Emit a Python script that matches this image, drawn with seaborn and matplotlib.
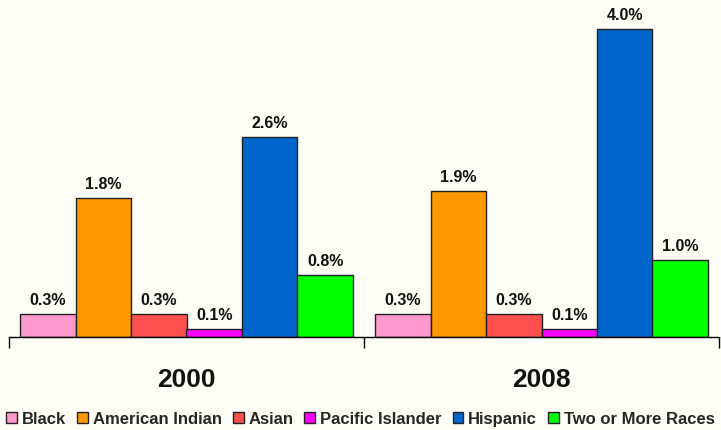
import pandas as pd
import matplotlib.pyplot as plt
import seaborn as sns

years = ["2000", "2008"]
groups = ["Black", "American Indian", "Asian", "Pacific Islander", "Hispanic", "Two or More Races"]
values_2000 = [0.3, 1.8, 0.3, 0.1, 2.6, 0.8]
values_2008 = [0.3, 1.9, 0.3, 0.1, 4.0, 1.0]
colors = ["#FF99CC", "#FF9900", "#FF5050", "#FF00FF", "#0066CC", "#00FF00"]

df = pd.DataFrame({
    "year": [years[0]] * len(groups) + [years[1]] * len(groups),
    "group": groups + groups,
    "value": values_2000 + values_2008,
})

sns.set_theme(style="white")
plt.rcParams["font.family"] = ["Liberation Sans", "DejaVu Sans"]
bg = "#FEFEF6"

fig = plt.figure(figsize=(7.21, 4.31), dpi=100, facecolor=bg)
ax = fig.add_axes([9 / 721, 1 - 338 / 431, 710 / 721, 331 / 431], facecolor=bg)

sns.barplot(data=df, x="year", y="value", hue="group", hue_order=groups,
            palette=colors, width=0.938, gap=0, edgecolor="#222222",
            linewidth=1.0, saturation=1, ax=ax)

for cont in ax.containers:
    ax.bar_label(cont, fmt="%.1f%%", padding=5, fontsize=11.5,
                 fontweight="bold", color="#111111")

ax.set_xlim(-0.5, 1.5)
ax.set_ylim(0, 4.3)
ax.set_xlabel("")
ax.set_ylabel("")
ax.set_yticks([])
ax.set_xticks([-0.5, 0.5, 1.5])
ax.set_xticklabels([])
ax.tick_params(axis="x", direction="out", length=8, width=1, color="black", bottom=True)
for s in ["top", "right", "left"]:
    ax.spines[s].set_visible(False)
ax.spines["bottom"].set_color("black")
ax.spines["bottom"].set_linewidth(1)

for i, yr in enumerate(years):
    ax.text(i, -0.54, yr, ha="center", va="center", fontsize=19,
            fontweight="bold", color="#111111", transform=ax.transData, clip_on=False)

handles, labels = ax.get_legend_handles_labels()
if ax.legend_:
    ax.legend_.remove()
fig.legend(handles, labels, loc="center", bbox_to_anchor=(0.5, 1 - 420 / 431),
           ncol=6, frameon=False, handlelength=0.65, handleheight=0.65,
           handletextpad=0.3, columnspacing=0.65,
           prop={"weight": "bold", "size": 12})

fig.savefig("out.png", dpi=100, facecolor=bg)
